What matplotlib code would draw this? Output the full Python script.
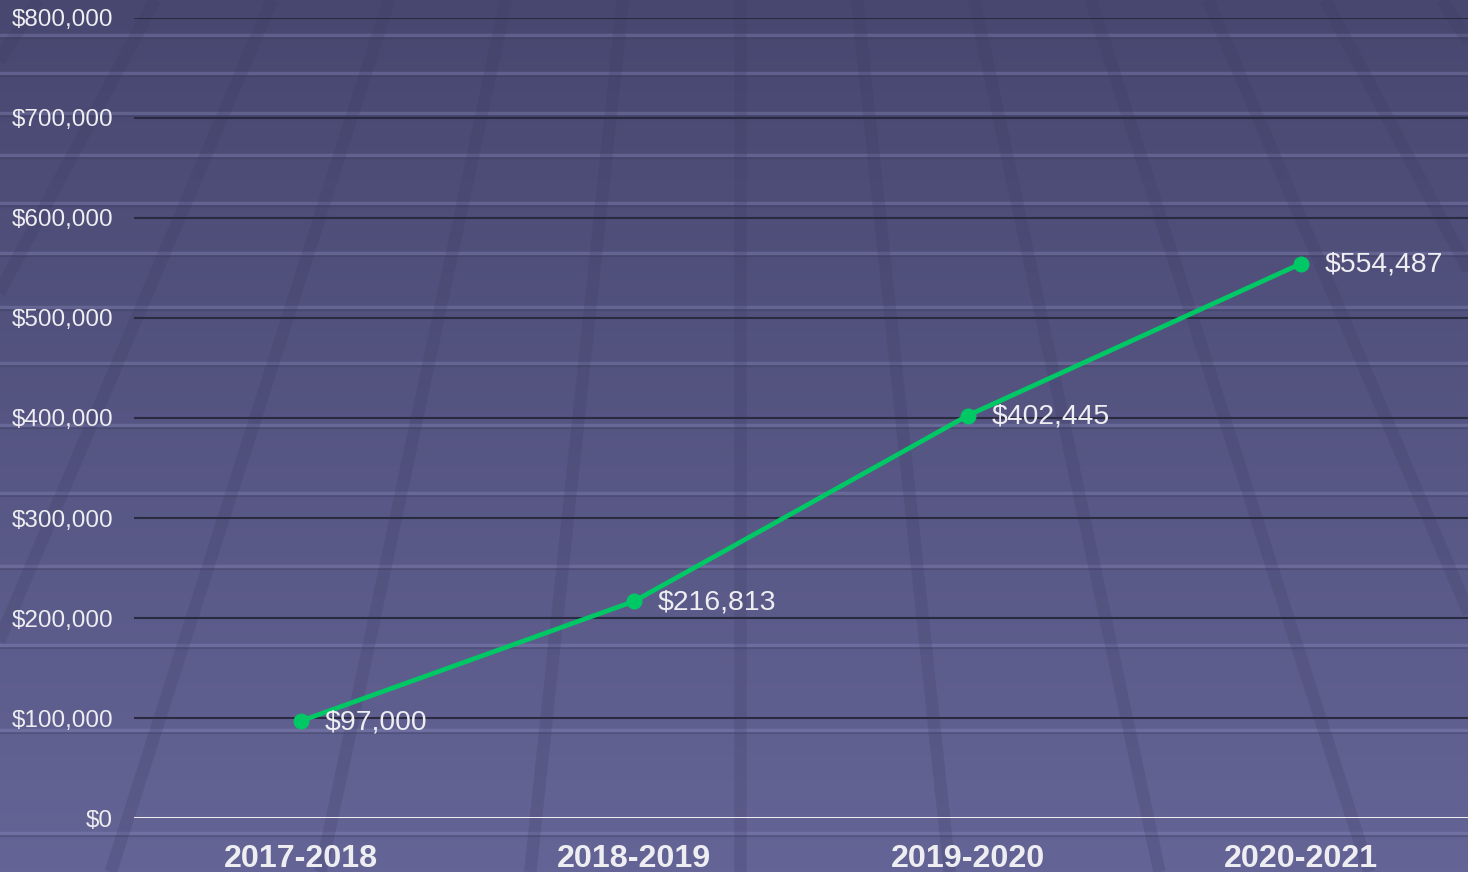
import matplotlib
matplotlib.use("Agg")
import matplotlib.pyplot as plt
import numpy as np

years = ["2017-2018", "2018-2019", "2019-2020", "2020-2021"]
amounts = [97000, 216813, 402445, 554487]
yticks = [0, 100000, 200000, 300000, 400000, 500000, 600000, 700000, 800000]

W, H = 1468, 872
GREEN = "#00C864"
TXT = "#EEEEF2"
GRID = "#2A2A40"

plt.rcParams["font.family"] = ["Liberation Sans", "DejaVu Sans"]

fig = plt.figure(figsize=(W / 100, H / 100), dpi=100)

# background: purple gradient with faint perspective texture
bg = fig.add_axes([0, 0, 1, 1], zorder=0)
top = np.array([72, 71, 112]) / 255
bot = np.array([100, 100, 150]) / 255
t = np.linspace(0, 1, 256)[:, None, None]
grad = np.repeat(top + (bot - top) * t, 2, axis=1)
bg.imshow(grad, extent=[0, W, H, 0], aspect="auto")
stripes = [35, 73, 113, 155, 203, 253, 307, 363, 425, 493, 566, 645, 730, 833]
for yy in stripes:
    bg.axhline(yy + 3, color="#2E2D4A", lw=1.5, alpha=0.25)
    bg.axhline(yy, color="#8C8CC0", lw=2.5, alpha=0.35)
vx, vy = 740, -1100
for k in range(-7, 8):
    x0 = vx + k * 117
    x1 = vx + (x0 - vx) * (H - vy) / (0 - vy)
    bg.plot([x0, x1], [0, H], color="#3A3960", lw=9, alpha=0.2, solid_capstyle="butt")
bg.set_xlim(0, W); bg.set_ylim(H, 0)
bg.axis("off")

ax = fig.add_axes([134 / W, 54 / H, (W - 134) / W, 800 / H], zorder=1)
ax.set_facecolor("none")
x = np.arange(len(years))
ax.set_xlim(-0.5, len(years) - 0.5)
ax.set_ylim(0, 800000)
ax.set_yticks(yticks)
ax.set_yticklabels([f"${v:,.0f}" for v in yticks], fontsize=17.5, color=TXT)
ax.set_xticks(x)
ax.set_xticklabels(years, fontsize=23.2, fontweight="bold", color=TXT)
ax.tick_params(axis="y", length=0, pad=15)
ax.tick_params(axis="x", length=0, pad=18.5)
for s in ax.spines.values():
    s.set_visible(False)
for v in yticks[1:]:
    ax.axhline(v, color=GRID, lw=1.5, zorder=1)
ax.axhline(0, color="white", lw=2, zorder=1)

ax.plot(x, amounts, "-o", color=GREEN, lw=3.4, ms=10.5, zorder=3, clip_on=False)
for xi, v in zip(x, amounts):
    ax.annotate(f"${v:,.0f}", (xi, v), xytext=(17, -1), textcoords="offset points",
                va="center", ha="left", fontsize=20.4, color=TXT, zorder=4)

fig.savefig("out.png", dpi=100)
